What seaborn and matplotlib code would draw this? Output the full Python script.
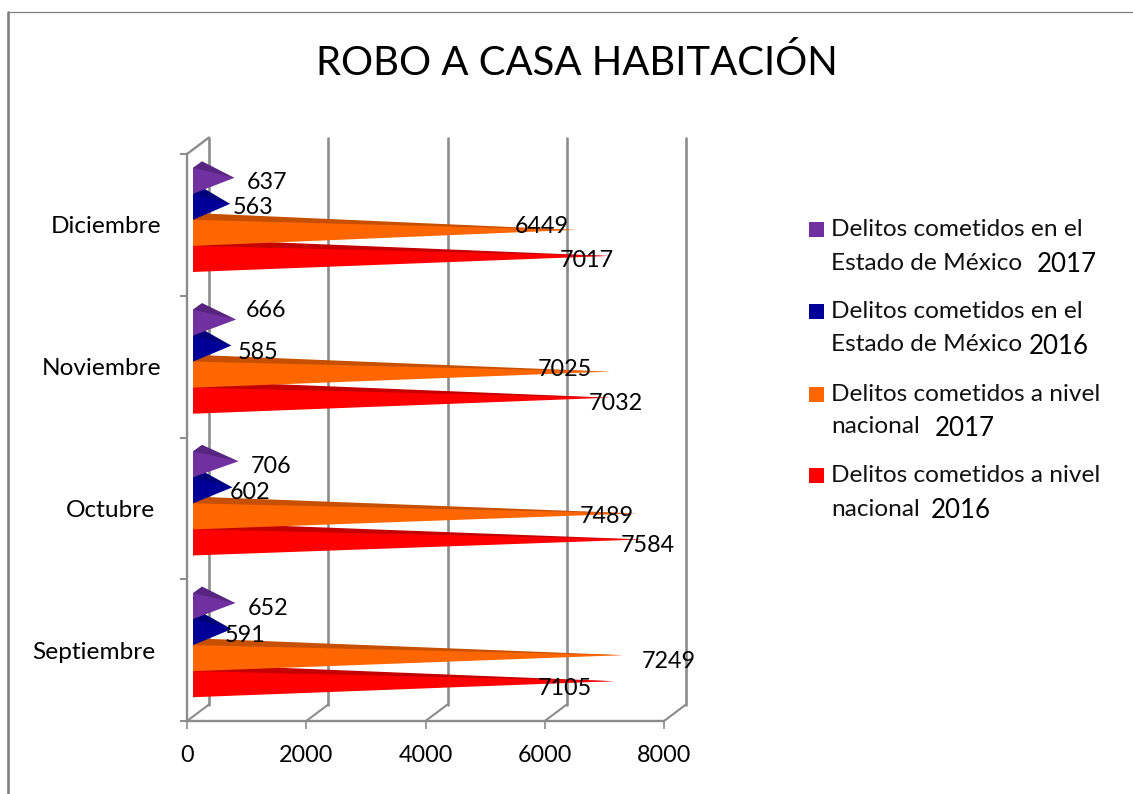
import matplotlib
matplotlib.use("Agg")
import matplotlib.pyplot as plt
import pandas as pd
import seaborn as sns
from matplotlib.lines import Line2D
from matplotlib.patches import Polygon, Rectangle

# ---------- data ----------
months = ["Diciembre", "Noviembre", "Octubre", "Septiembre"]
series_names = [
    "Delitos cometidos en el Estado de México 2017",
    "Delitos cometidos en el Estado de México 2016",
    "Delitos cometidos a nivel nacional 2017",
    "Delitos cometidos a nivel nacional 2016",
]
edomex_2017 = [637, 666, 706, 652]
edomex_2016 = [563, 585, 602, 591]
nacional_2017 = [6449, 7025, 7489, 7249]
nacional_2016 = [7017, 7032, 7584, 7105]
series_values = [edomex_2017, edomex_2016, nacional_2017, nacional_2016]
x_ticks = [0, 2000, 4000, 6000, 8000]
title = "ROBO A CASA HABITACIÓN"
legend_lines = [
    ("Delitos cometidos en el", "Estado de México", "2017"),
    ("Delitos cometidos en el", "Estado de México", "2016"),
    ("Delitos cometidos a nivel", "nacional", "2017"),
    ("Delitos cometidos a nivel", "nacional", "2016"),
]

# ---------- styles ----------
front_colors = ["#7030A0", "#000099", "#FF6600", "#FF0000"]
top_colors = ["#57257F", "#00007A", "#C65000", "#C40000"]
grid_color = "#8C8C8C"
W, H = 1133, 794
FONT = "Lato"
DIGIT_SIZE = 16.8
WORD_SIZE = 17.6

# hand-placed data label offsets (pixels, relative to value / bar centre)
label_offsets = [
    [(42.5, -1), (39.3, 12.6), (41.9, -1.6), (42.1, -1.9)],
    [(32.7, 0), (36.1, -2.4), (27.1, -1.6), (22.8, -1.9)],
    [(-29.5, 7), (-40.9, 6.6), (-26.5, 0.4), (49.8, -1.9)],
    [(-18.4, -1), (9.7, -1.4), (8.8, -1.6), (-45.6, -2.9)],
]
legend_rows = [(229, 262, 1067), (311, 344, 1059), (394, 426, 965), (475, 508, 961)]

sns.set_theme(style="white")
plt.rcParams["font.family"] = [FONT, "DejaVu Sans"]

df = pd.DataFrame(
    [
        {"mes": m, "serie": s, "valor": v}
        for s, vals in zip(series_names, series_values)
        for m, v in zip(months, vals)
    ]
)

fig = plt.figure(figsize=(W / 100, H / 100), dpi=100, facecolor="white")
AX_L, AX_R, AX_T, AX_B = 187, 664, 154, 721
ax = fig.add_axes([AX_L / W, 1 - AX_B / H, (AX_R - AX_L) / W, (AX_B - AX_T) / H])
ax.patch.set_alpha(0)

sns.barplot(
    data=df, x="valor", y="mes", hue="serie", order=months, hue_order=series_names,
    palette=front_colors, orient="h", width=0.735, gap=0, legend=False, ax=ax,
)
ax.set_xlim(0, 8000)
ax.set_ylim(3.5, -0.5)
ax.set_xlabel("")
ax.set_ylabel("")

PX = 8000 / (AX_R - AX_L)  # data units per pixel, x
PY = 4 / (AX_B - AX_T)     # data units per pixel, y
DEPTH_X, DEPTH_Y = 22 * PX, 16.5 * PY
PERSPECTIVE = 0.985        # the bars sit slightly deeper in the 3D box

# back wall, floor and top edge of the 3D box
for tv in x_ticks:
    ax.plot([tv, tv + DEPTH_X], [3.5, 3.5 - DEPTH_Y], color=grid_color, lw=1.5, clip_on=False, zorder=1)
    ax.plot([tv + DEPTH_X] * 2, [3.5 - DEPTH_Y, -0.5 - DEPTH_Y], color=grid_color, lw=1.9, clip_on=False, zorder=1)
ax.plot([0, DEPTH_X], [-0.5, -0.5 - DEPTH_Y], color=grid_color, lw=1.7, clip_on=False, zorder=1)

# pyramids built on the bars seaborn computed
bars = list(ax.patches)
n_m = len(months)
for s_idx in range(len(series_names) - 1, -1, -1):
    for m_idx in range(n_m):
        bar = bars[s_idx * n_m + m_idx]
        bar.set_visible(False)
        val = bar.get_width()
        y_top = bar.get_y() - 5 * PY
        y_bot = y_top + bar.get_height()
        y_mid = (y_top + y_bot) / 2
        x0 = 6 * PX
        tip = (val * PERSPECTIVE + 10 * PX, y_mid - 3 * PY)
        back = (x0 + 9 * PX, y_top - 6.5 * PY)
        z = 5 + (len(series_names) - s_idx)
        ax.add_patch(Polygon([(x0, y_top), back, tip, (x0, y_mid)], closed=True, fc=top_colors[s_idx], ec="none", zorder=z, clip_on=False))
        ax.add_patch(Polygon([(x0, y_top), (x0, y_bot), tip], closed=True, fc=front_colors[s_idx], ec="none", zorder=z + 0.5, clip_on=False))
        dx, dy = label_offsets[s_idx][m_idx]
        ax.annotate(f"{val:.0f}", xy=(val, y_mid), xytext=(dx, dy - 1), textcoords="offset pixels",
                    ha="center", va="center", fontsize=DIGIT_SIZE, color="black", zorder=20,
                    annotation_clip=False)

# axes furniture
for side in ("top", "right"):
    ax.spines[side].set_visible(False)
for side in ("left", "bottom"):
    ax.spines[side].set_color(grid_color)
    ax.spines[side].set_linewidth(1.7)
ax.set_xticks(x_ticks)
ax.set_xticklabels([str(t) for t in x_ticks], fontsize=DIGIT_SIZE, color="black")
ax.tick_params(axis="x", length=5.5, width=1.2, color=grid_color, pad=12, bottom=True)
ax.set_yticks([i - 0.5 for i in range(n_m + 1)], minor=True)
ax.tick_params(axis="y", which="minor", length=5, width=1.4, color=grid_color, left=True)
ax.set_yticks(range(n_m))
ax.set_yticklabels(months, fontsize=WORD_SIZE, color="black")
ax.tick_params(axis="y", which="major", length=0, left=False)
for tick, pad in zip(ax.yaxis.get_major_ticks(), [18.5, 18.5, 23, 23]):
    tick.set_pad(pad)

# chart frame
fig.add_artist(Line2D([8 / W, 8 / W], [1 - 12 / H, 0], color="#808080", lw=1.9))
fig.add_artist(Line2D([8 / W, 1], [1 - 12 / H, 1 - 12 / H], color="#808080", lw=0.9))

fig.text(576.5 / W, 1 - 63 / H, title, ha="center", va="center", fontsize=28.9, color="black")

# legend
for color, lines, (y1, y2, x_year) in zip(front_colors, legend_lines, legend_rows):
    fig.add_artist(Rectangle((809 / W, 1 - (y1 + 8) / H), 15 / W, 15 / H, transform=fig.transFigure, fc=color, ec="none"))
    fig.text(831 / W, 1 - (y1 + 1) / H, lines[0], ha="left", va="center", fontsize=WORD_SIZE, color="#111111")
    fig.text(831 / W, 1 - (y2 + 1) / H, lines[1], ha="left", va="center", fontsize=WORD_SIZE, color="#111111")
    fig.text(x_year / W, 1 - (y2 + 2) / H, lines[2], ha="center", va="center", fontsize=18.6, color="black")

fig.savefig("out.png", dpi=100, facecolor="white")
